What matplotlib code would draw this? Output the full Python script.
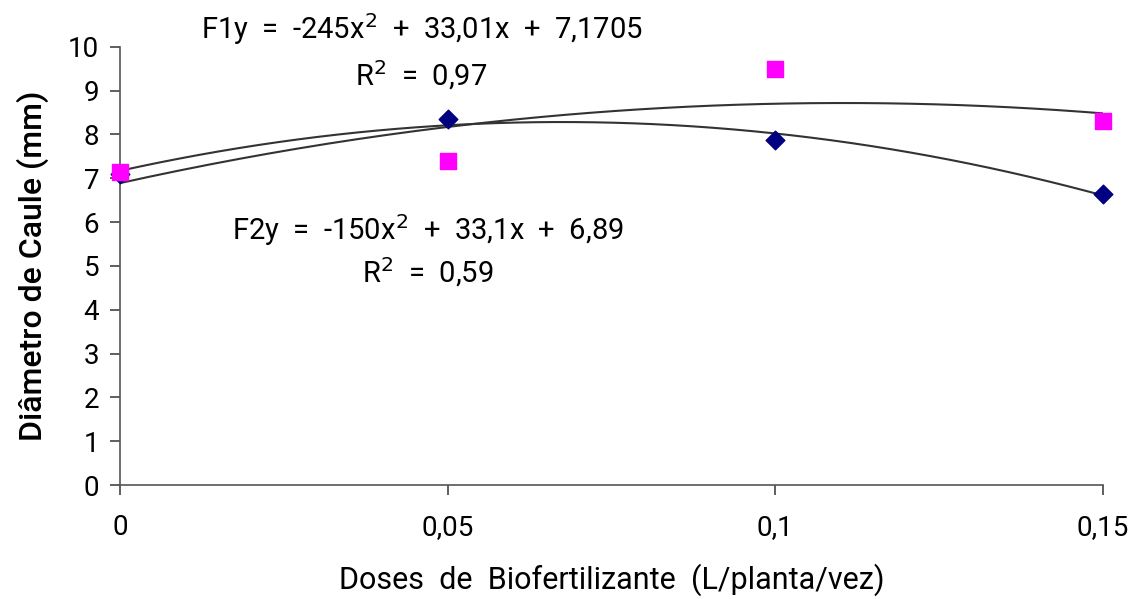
import numpy as np
import matplotlib
matplotlib.use("Agg")
import matplotlib.pyplot as plt

plt.rcParams['font.family'] = ['Roboto', 'DejaVu Sans']

doses = [0, 0.05, 0.1, 0.15]
f1_vals = [7.1, 8.35, 7.88, 6.65]
f2_vals = [7.15, 7.4, 9.5, 8.3]
# trend line coefficients (a, b, c) as printed on the chart
f1_coef = [-245, 33.01, 7.1705]
f2_coef = [-150, 33.1, 6.89]
x_ticks = [0, 0.05, 0.1, 0.15]
x_labels = ['0', '0,05', '0,1', '0,15']

fig = plt.figure(figsize=(11.44, 5.99), dpi=100)
ax = fig.add_axes([0.105, 0.19, 0.859, 0.732])

xs = np.linspace(0, 0.15, 200)
ax.plot(xs, np.polyval(f1_coef, xs), color='#333333', lw=1.5, zorder=2)
ax.plot(xs, np.polyval(f2_coef, xs), color='#333333', lw=1.5, zorder=2)
ax.scatter(doses, f1_vals, marker='D', s=90, color='#000080', zorder=3, clip_on=False)
ax.scatter(doses, f2_vals, marker='s', s=130, color='#ff00ff', zorder=4, clip_on=False)

ax.set_xlim(0, 0.15)
ax.set_ylim(0, 10)
ax.set_yticks(range(11))
ax.set_xticks(x_ticks)
ax.set_xticklabels(x_labels)
ax.tick_params(axis='both', labelsize=20, color='#444444', length=7, width=1.2)
ax.tick_params(axis='x', pad=14)
ax.tick_params(axis='y', pad=8)
for s in ['top', 'right']:
    ax.spines[s].set_visible(False)
for s in ['left', 'bottom']:
    ax.spines[s].set_color('#555555')
    ax.spines[s].set_linewidth(1.2)

ax.set_ylabel('Diâmetro de Caule (mm)', fontsize=23, labelpad=14, fontweight='medium')
ax.set_xlabel('Doses  de  Biofertilizante  (L/planta/vez)', fontsize=22, labelpad=16)

ax.text(0.046, 10.4, 'F1y  =  -245x$^2$  +  33,01x  +  7,1705', fontsize=21, ha='center', va='center', clip_on=False)
ax.text(0.046, 9.35, 'R$^2$  =  0,97', fontsize=21, ha='center', va='center')
ax.text(0.047, 5.82, 'F2y  =  -150x$^2$  +  33,1x  +  6,89', fontsize=21, ha='center', va='center')
ax.text(0.047, 4.86, 'R$^2$  =  0,59', fontsize=21, ha='center', va='center')

fig.savefig('out.png', dpi=100)
